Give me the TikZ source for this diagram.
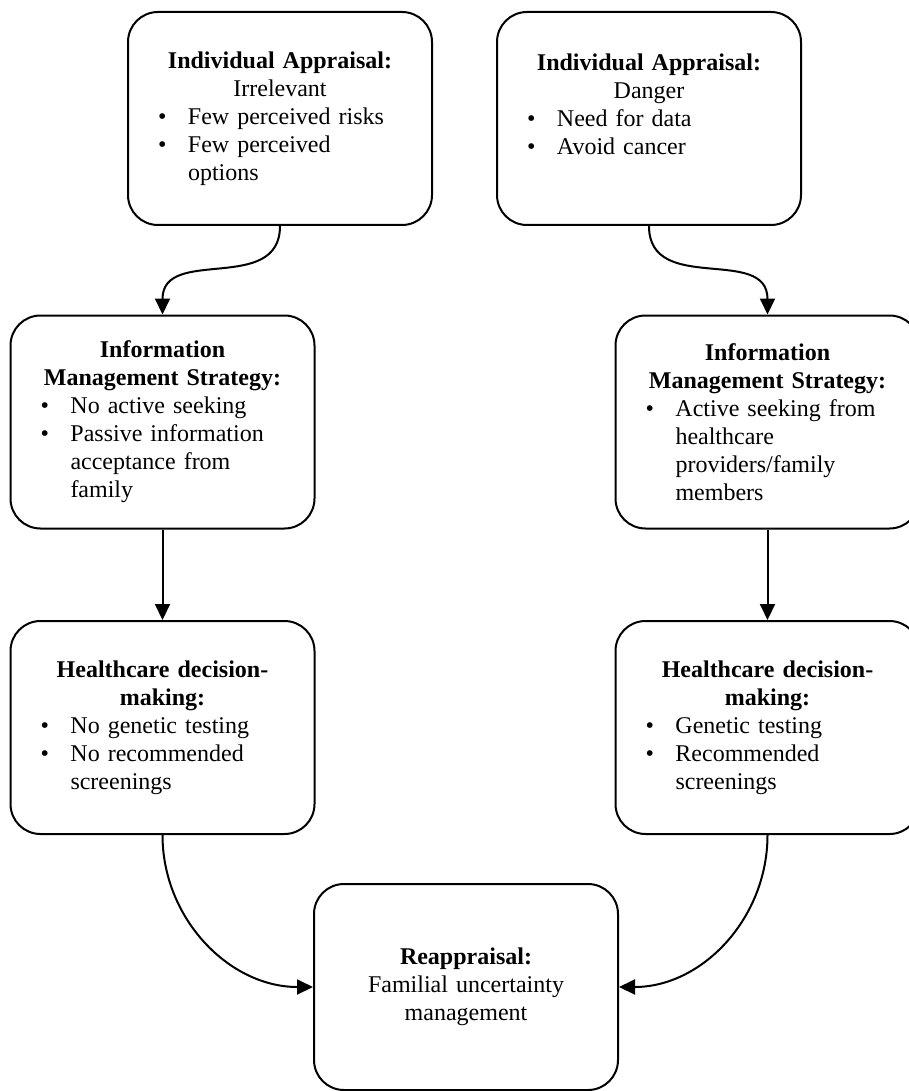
\documentclass[tikz,border=0pt]{standalone}
\usepackage{fontspec}
\setmainfont{Liberation Serif}
\usetikzlibrary{arrows.meta}

\newcommand{\itm}{\par\hangindent=15pt\hangafter=1\noindent\makebox[15pt][l]{\textbullet}}

\begin{document}
\begin{tikzpicture}[x = 0.5pt, y = -0.5pt,
	>={Triangle[length=8pt,width=7.5pt]},
	flowbox/.style = {draw, line width=1pt, rounded corners=15pt, text width=122pt, inner xsep=15pt,
		minimum height=106.5pt, align=left, font=\fontsize{12}{14}\selectfont},
	flow/.style = {->, line width=1pt}]
	\useasboundingbox (0,0) rectangle (909,1091);

	% appraisal
	\node[flowbox] (ia1) at (280,118.5) {{\centering\textbf{Individual Appraisal:}\\Irrelevant\par}
		\itm Few perceived risks
		\itm Few perceived\newline options\par};
	\node[flowbox] (ia2) at (649,118.5) {{\centering\textbf{Individual Appraisal:}\\Danger\par}
		\itm Need for data
		\itm Avoid cancer\par\mbox{}};

	% information management
	\node[flowbox] (ims1) at (162.5,422) {{\centering\textbf{Information}\\\textbf{Management Strategy:}\par}
		\itm No active seeking
		\itm Passive information\newline acceptance from\newline family\par};
	\node[flowbox] (ims2) at (767.5,422) {{\centering\textbf{Information}\\\textbf{Management Strategy:}\par}
		\itm Active seeking from\newline healthcare\newline providers/family\newline members\par};

	% decision-making
	\node[flowbox] (hdm1) at (162.5,727.5) {{\centering\textbf{Healthcare decision-}\\\textbf{making:}\par}
		\itm No genetic testing
		\itm No recommended\newline screenings\par};
	\node[flowbox] (hdm2) at (767.5,727.5) {{\centering\textbf{Healthcare decision-}\\\textbf{making:}\par}
		\itm Genetic testing
		\itm Recommended\newline screenings\par};

	\node[flowbox, align=center, minimum height=103pt] (reap) at (466,987) {\textbf{Reappraisal:}\\Familial uncertainty\\management};

	\draw[flow] (ia1.south) to[out=-90, in=90, looseness=1.2] (ims1.north);
	\draw[flow] (ia2.south) to[out=-90, in=90, looseness=1.2] (ims2.north);
	\draw[flow] (ims1.south) -- (hdm1.north);
	\draw[flow] (ims2.south) -- (hdm2.north);
	\draw[flow] (hdm1.south) to[out=-90, in=180] (reap.west);
	\draw[flow] (hdm2.south) to[out=-90, in=0] (reap.east);
\end{tikzpicture}
\end{document}
